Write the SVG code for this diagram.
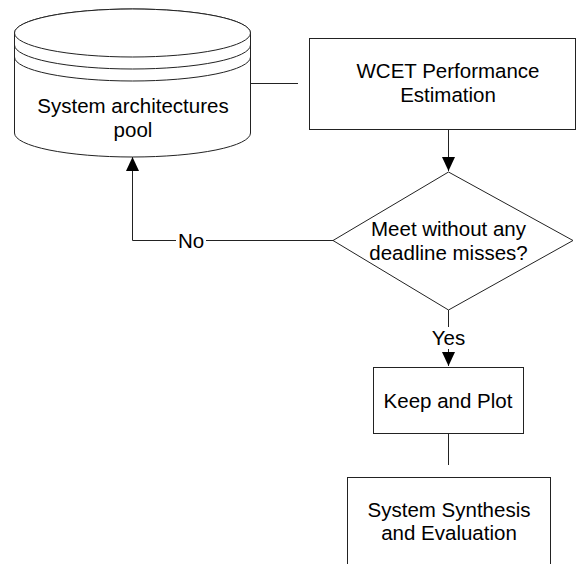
<svg xmlns="http://www.w3.org/2000/svg" width="576" height="564" viewBox="0 0 576 564">
<defs>
<style>
.shape{fill:#fff;stroke:#222;stroke-width:1}
.line{fill:none;stroke:#222;stroke-width:1}
text{font-family:"Liberation Sans",Arial,sans-serif;font-size:20.5px;fill:#000;text-anchor:middle}
</style>
<marker id="arrow" viewBox="0 0 14 13" refX="14" refY="6.5" markerWidth="14" markerHeight="13" markerUnits="userSpaceOnUse" orient="auto">
<path d="M0,0 L14,6.5 L0,13 Z" fill="#000"/>
</marker>
</defs>
<rect width="576" height="564" fill="#fff"/>
<g id="connectors">
<line class="line" x1="251" y1="83.5" x2="298" y2="83.5"/>
<line class="line" x1="448.5" y1="129" x2="448.5" y2="171" marker-end="url(#arrow)"/>
<polyline class="line" points="333,240.5 132.5,240.5 132.5,157" marker-end="url(#arrow)"/>
<line class="line" x1="448.5" y1="310" x2="448.5" y2="366" marker-end="url(#arrow)"/>
<line class="line" x1="448.5" y1="433" x2="448.5" y2="465"/>
<rect x="176" y="230" width="30" height="22" fill="#fff"/>
<text x="191" y="247.5">No</text>
<rect x="428" y="327" width="41" height="22" fill="#fff"/>
<text x="448.5" y="345">Yes</text>
</g>
<g id="pool">
<path class="shape" d="M14.5,33 L14.5,133 A118,24 0 0 0 250.5,133 L250.5,33 A118,24 0 0 0 14.5,33 Z"/>
<ellipse class="shape" cx="132.5" cy="33" rx="118" ry="24"/>
<path class="line" d="M14.5,45 A118,24 0 0 0 250.5,45"/>
<path class="line" d="M14.5,57 A118,24 0 0 0 250.5,57"/>
<text x="133" y="113">System architectures</text>
<text x="133" y="136.5">pool</text>
</g>
<g id="wcet">
<rect class="shape" x="309.5" y="38.5" width="266" height="91"/>
<text x="448" y="78">WCET Performance</text>
<text x="448" y="101.5">Estimation</text>
</g>
<g id="decision">
<polygon class="shape" points="448.5,172 573,240.5 448.5,310 333,240.5"/>
<text x="448.5" y="235.5">Meet without any</text>
<text x="448.5" y="259.5">deadline misses?</text>
</g>
<g id="keep">
<rect class="shape" x="373.5" y="367.5" width="150" height="66"/>
<text x="448" y="407.5">Keep and Plot</text>
</g>
<g id="synthesis">
<rect class="shape" x="347.5" y="477.5" width="203" height="100"/>
<text x="449" y="516.5">System Synthesis</text>
<text x="449" y="540">and Evaluation</text>
</g>
</svg>
